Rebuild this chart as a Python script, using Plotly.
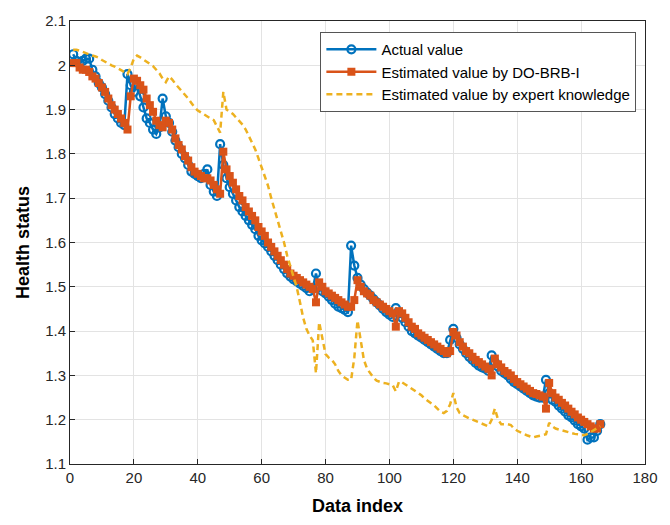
import plotly.graph_objects as go

idx = list(range(1, 167))

actual = [2.025, 2.01, 2.005, 2.01, 2.015, 2.015, 1.99, 1.975, 1.96, 1.95,
          1.935, 1.92, 1.905, 1.89, 1.88, 1.87, 1.865, 1.98, 1.955, 1.94,
          1.955, 1.93, 1.905, 1.88, 1.87, 1.855, 1.845, 1.86, 1.925, 1.885,
          1.87, 1.85, 1.83, 1.815, 1.8, 1.79, 1.775, 1.76, 1.755, 1.75,
          1.745, 1.755, 1.765, 1.73, 1.715, 1.705, 1.822, 1.775, 1.745, 1.725,
          1.71, 1.695, 1.68, 1.67, 1.66, 1.65, 1.64, 1.63, 1.615, 1.605,
          1.598, 1.59, 1.58, 1.57, 1.56, 1.55, 1.54, 1.53, 1.523, 1.517,
          1.512, 1.507, 1.502, 1.497, 1.49, 1.495, 1.53, 1.5, 1.49, 1.485,
          1.478, 1.47, 1.462, 1.455, 1.452, 1.448, 1.443, 1.593, 1.548, 1.52,
          1.505, 1.495, 1.487, 1.48, 1.472, 1.465, 1.458, 1.45, 1.443, 1.437,
          1.432, 1.452, 1.44, 1.43, 1.42, 1.41, 1.4, 1.395, 1.39, 1.385,
          1.38, 1.375, 1.37, 1.365, 1.36, 1.355, 1.35, 1.35, 1.38, 1.405,
          1.385, 1.37, 1.36, 1.35, 1.342, 1.335, 1.328, 1.322, 1.318, 1.315,
          1.31, 1.345, 1.33, 1.32, 1.31, 1.305, 1.3, 1.292, 1.285, 1.28,
          1.275, 1.27, 1.265, 1.26, 1.255, 1.252, 1.25, 1.25, 1.29, 1.26,
          1.245, 1.24, 1.232, 1.225, 1.218, 1.21, 1.205, 1.198, 1.19, 1.185,
          1.18, 1.155, 1.16, 1.16, 1.175, 1.19]

do_brb = [2.005, 2.005, 1.995, 1.99, 1.99, 1.985, 1.975, 1.97, 1.96, 1.95,
          1.94, 1.925, 1.91, 1.9, 1.89, 1.88, 1.87, 1.855, 1.93, 1.97,
          1.965, 1.955, 1.945, 1.925, 1.91, 1.895, 1.875, 1.865, 1.86, 1.875,
          1.87, 1.855, 1.835, 1.82, 1.81, 1.795, 1.785, 1.77, 1.76, 1.755,
          1.75, 1.745, 1.745, 1.74, 1.73, 1.72, 1.71, 1.805, 1.765, 1.75,
          1.735, 1.72, 1.705, 1.695, 1.68, 1.67, 1.66, 1.65, 1.635, 1.625,
          1.615, 1.6, 1.59, 1.58, 1.57, 1.56, 1.55, 1.54, 1.53, 1.525,
          1.52, 1.515, 1.51, 1.505, 1.5, 1.495, 1.465, 1.51, 1.5, 1.49,
          1.485, 1.48, 1.475, 1.47, 1.465, 1.46, 1.455, 1.455, 1.47, 1.515,
          1.5, 1.49, 1.485, 1.48, 1.47, 1.465, 1.46, 1.455, 1.45, 1.445,
          1.44, 1.41, 1.445, 1.44, 1.43, 1.42, 1.41, 1.405, 1.395, 1.39,
          1.385, 1.38, 1.375, 1.37, 1.365, 1.36, 1.355, 1.35, 1.355, 1.398,
          1.39, 1.375, 1.365, 1.355, 1.35, 1.342, 1.335, 1.33, 1.325, 1.32,
          1.315, 1.3, 1.338, 1.325, 1.318, 1.31, 1.305, 1.3, 1.292, 1.285,
          1.28, 1.275, 1.27, 1.265, 1.26, 1.258, 1.255, 1.252, 1.225, 1.283,
          1.26, 1.25, 1.245, 1.238, 1.232, 1.225, 1.218, 1.212, 1.205, 1.2,
          1.195, 1.19, 1.185, 1.18, 1.18, 1.19]

expert = [2.035, 2.035, 2.033, 2.03, 2.028, 2.025, 2.022, 2.02, 2.017, 2.012,
          2.008, 2.003, 2.0, 1.997, 1.993, 1.99, 1.985, 1.98, 1.995, 2.015,
          2.022, 2.018, 2.012, 2.008, 2.003, 1.998, 1.99, 1.982, 1.97, 1.962,
          1.975, 1.968, 1.958, 1.95, 1.94, 1.932, 1.925, 1.915, 1.905, 1.898,
          1.893, 1.89, 1.885, 1.88, 1.876, 1.862, 1.848, 1.94, 1.9, 1.895,
          1.89, 1.882, 1.874, 1.866, 1.855, 1.84, 1.825, 1.81, 1.79, 1.77,
          1.752, 1.728, 1.7, 1.675, 1.65, 1.63, 1.6, 1.57, 1.545, 1.52,
          1.498, 1.465, 1.43, 1.405, 1.39, 1.379, 1.305, 1.42, 1.38, 1.348,
          1.34, 1.335, 1.325, 1.31, 1.3, 1.294, 1.29, 1.29, 1.34, 1.424,
          1.38, 1.335, 1.315, 1.305, 1.295, 1.288, 1.285, 1.283, 1.282, 1.28,
          1.278, 1.264, 1.286, 1.284, 1.28, 1.275, 1.27, 1.265, 1.262, 1.255,
          1.248, 1.243, 1.238, 1.232, 1.225, 1.218, 1.215, 1.22, 1.235, 1.26,
          1.228, 1.215, 1.21, 1.206, 1.203, 1.2, 1.197, 1.194, 1.19, 1.187,
          1.185, 1.2, 1.225, 1.2, 1.19, 1.19, 1.19, 1.188, 1.18, 1.175,
          1.171, 1.168, 1.165, 1.162, 1.16, 1.162, 1.164, 1.165, 1.167, 1.193,
          1.185, 1.18, 1.178, 1.175, 1.174, 1.172, 1.17, 1.168, 1.167, 1.166,
          1.165, 1.168, 1.172, 1.176, 1.18, 1.185]

x_ticks = [0, 20, 40, 60, 80, 100, 120, 140, 160, 180]
y_ticks = [1.1, 1.2, 1.3, 1.4, 1.5, 1.6, 1.7, 1.8, 1.9, 2.0, 2.1]
y_labels = ["1.1", "1.2", "1.3", "1.4", "1.5", "1.6", "1.7", "1.8", "1.9", "2", "2.1"]

fig = go.Figure()
fig.add_trace(go.Scatter(
    x=idx, y=actual, mode="lines+markers", name="Actual value",
    line=dict(color="#0072BD", width=2.5),
    marker=dict(symbol="circle-open", size=8, color="#0072BD", line=dict(width=2.2)),
))
fig.add_trace(go.Scatter(
    x=idx, y=do_brb, mode="lines+markers", name="Estimated value by DO-BRB-I",
    line=dict(color="#D95319", width=2.5),
    marker=dict(symbol="square", size=8, color="#D95319"),
))
fig.add_trace(go.Scatter(
    x=idx, y=expert, mode="lines", name="Estimated value by expert knowledge",
    line=dict(color="#EDB120", width=2.5, dash="6px,4px"),
))

axis_common = dict(
    showline=True, linecolor="#262626", linewidth=1, mirror=True,
    ticks="inside", ticklen=5, tickcolor="#262626",
    showgrid=True, gridcolor="#E3E3E3", gridwidth=1, zeroline=False,
    tickfont=dict(family="Liberation Sans, Arial", size=15, color="#262626"),
)

fig.update_layout(
    width=670, height=525,
    margin=dict(l=70, r=16, t=17, b=60),
    paper_bgcolor="white", plot_bgcolor="white",
    font=dict(family="Liberation Sans, Arial", color="#262626"),
    xaxis=dict(range=[0, 180], tickvals=x_ticks,
               title=dict(text="<b>Data index</b>", font=dict(size=18, color="#000000"), standoff=14),
               **axis_common),
    yaxis=dict(range=[1.1, 2.1], tickvals=y_ticks, ticktext=y_labels,
               title=dict(text="<b>Health status</b>", font=dict(size=18, color="#000000"), standoff=10),
               **axis_common),
    legend=dict(x=0.985, y=0.975, xanchor="right", yanchor="top",
                bgcolor="white", bordercolor="#555555", borderwidth=1,
                font=dict(size=15, color="#000000"), tracegroupgap=0,
                itemwidth=50),
    showlegend=True,
)

fig.write_html("out.html")
